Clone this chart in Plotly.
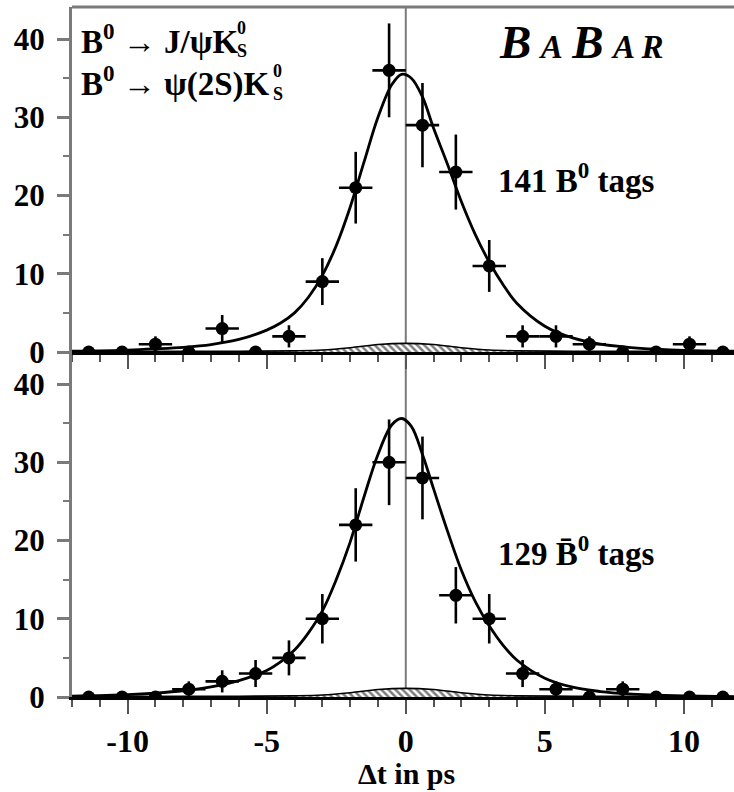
import numpy as np
import plotly.graph_objects as go
from plotly.subplots import make_subplots

# Δt bins (ps) and event counts per bin
bin_centers = [-11.4, -10.2, -9.0, -7.8, -6.6, -5.4, -4.2, -3.0, -1.8, -0.6,
               0.6, 1.8, 3.0, 4.2, 5.4, 6.6, 7.8, 9.0, 10.2, 11.4]
b0_counts = [0, 0, 1, 0, 3, 0, 2, 9, 21, 36, 29, 23, 11, 2, 2, 1, 0, 0, 1, 0]
b0bar_counts = [0, 0, 0, 1, 2, 3, 5, 10, 22, 30, 28, 13, 10, 3, 1, 0, 1, 0, 0, 0]
bin_half_width = 0.6

# Likelihood fit projections
fit_dt = [-12, -10, -9, -8, -7, -6, -5, -4.5, -4, -3.5, -3, -2.5, -2, -1.5, -1, -0.5, -0.15,
          0.2, 0.6, 1, 1.5, 2, 2.5, 3, 3.5, 4, 5, 6, 7, 8, 9, 10, 12]
b0_fit = [0.1, 0.25, 0.4, 0.6, 0.95, 1.6, 2.8, 3.7, 5.0, 7.0, 9.8, 13.6, 18.5, 24.3, 30.0, 34.2, 35.5,
          35.0, 32.6, 28.6, 24.0, 19.2, 15.0, 11.5, 8.6, 6.2, 3.3, 1.8, 1.0, 0.6, 0.35, 0.2, 0.1]
b0bar_fit = [0.1, 0.3, 0.5, 0.8, 1.3, 2.1, 3.4, 4.5, 6.0, 8.2, 11.0, 15.0, 19.8, 25.6, 31.0, 34.8, 35.6,
             34.6, 31.0, 26.6, 21.2, 16.2, 12.2, 9.1, 6.6, 4.7, 2.4, 1.25, 0.7, 0.4, 0.25, 0.15, 0.05]

# Background component
bkg_dt = [-12, -8, -6, -4, -3, -2, -1, 0, 1, 2, 3, 4, 6, 8, 12]
bkg_level = [0.05, 0.08, 0.1, 0.15, 0.25, 0.55, 0.95, 1.1, 0.95, 0.55, 0.25, 0.15, 0.1, 0.08, 0.05]

# Axis ticks
x_tick_vals = [-10, -5, 0, 5, 10]
x_tick_text = ["-10", "-5", "0", "5", "10"]
y_tick_vals = [0, 10, 20, 30, 40]
y_tick_text = ["0", "10", "20", "30", "40"]

W, H = 734, 792
L, T, B = 72, 7, 95
PW, PH = W - L, H - T - B
SERIF = "Liberation Serif"
GRAY = "#7a7a7a"


def px_x(px):
    return (px - L) / PW


def px_y(py):
    return (H - B - py) / PH


fig = make_subplots(rows=2, cols=1, shared_xaxes=False, vertical_spacing=0)


def add_panel(counts, fit, row):
    fig.add_trace(go.Scatter(
        x=bkg_dt, y=bkg_level, mode="lines", line=dict(color="black", width=1.6, shape="spline"),
        fill="tozeroy", fillcolor="white",
        fillpattern=dict(shape="\\", fgcolor="black", bgcolor="white", size=5, solidity=0.5),
        showlegend=False, hoverinfo="skip"), row=row, col=1)
    fig.add_trace(go.Scatter(
        x=fit_dt, y=fit, mode="lines",
        line=dict(color="black", width=2.8, shape="spline", smoothing=1.0),
        showlegend=False, hoverinfo="skip"), row=row, col=1)
    err = [float(np.sqrt(c)) for c in counts]
    xerr = [bin_half_width if c > 0 else 0 for c in counts]
    fig.add_trace(go.Scatter(
        x=bin_centers, y=counts, mode="markers",
        marker=dict(color="black", size=13),
        error_y=dict(type="data", array=err, color="black", thickness=2.6, width=0),
        error_x=dict(type="data", array=xerr, color="black", thickness=2.6, width=0),
        showlegend=False), row=row, col=1)


add_panel(b0_counts, b0_fit, 1)
add_panel(b0bar_counts, b0bar_fit, 2)

xcommon = dict(range=[-12, 11.8], tickvals=x_tick_vals, ticktext=x_tick_text,
               ticks="outside", ticklen=14, tickwidth=2, tickcolor="#555",
               minor=dict(dtick=1, tick0=0, ticks="outside", ticklen=7, tickwidth=1.5, tickcolor="#555"),
               showline=True, linecolor="black", linewidth=2.5, showgrid=False, zeroline=False,
               tickfont=dict(family=SERIF, size=32, color="black", weight="bold"))
fig.update_xaxes(**xcommon)
fig.update_xaxes(showticklabels=False, row=1, col=1)

ycommon = dict(range=[0, 44.1], tickvals=y_tick_vals, ticktext=y_tick_text,
               ticks="outside", ticklen=12, tickwidth=2.5, tickcolor=GRAY,
               minor=dict(dtick=5, tick0=0, ticks="outside", ticklen=6, tickwidth=2, tickcolor=GRAY),
               showline=True, linecolor=GRAY, linewidth=3, showgrid=False, zeroline=False,
               ticklabelstandoff=6,
               tickfont=dict(family=SERIF, size=31, color="black", weight="bold"))
fig.update_yaxes(**ycommon)

shapes = [
    dict(type="line", xref="x", yref="paper", x0=0, x1=0, y0=0, y1=1,
         line=dict(color=GRAY, width=2), layer="below"),
    dict(type="line", xref="paper", yref="paper", x0=0, x1=1.01, y0=1, y1=1,
         line=dict(color=GRAY, width=3)),
]

big = dict(family=SERIF, size=33, color="black", weight="bold")
small = dict(family=SERIF, size=18, color="black", weight="bold")
thin = "\u2009"
annotations = [
    dict(text="B<sup>0</sup> → J/ψK", x=px_x(80), y=px_y(39), xanchor="left", yanchor="middle", font=big),
    dict(text="0<br>S", x=px_x(236), y=px_y(40), xanchor="left", yanchor="middle", align="left", font=small),
    dict(text="B<sup>0</sup> → ψ(2S)K", x=px_x(80), y=px_y(81), xanchor="left", yanchor="middle", font=big),
    dict(text="0<br>S", x=px_x(272), y=px_y(82), xanchor="left", yanchor="middle", align="left", font=small),
    dict(text=f"<i>B{thin}<span style='font-size:33px'>A</span>{thin}B{thin}"
              f"<span style='font-size:33px'>A{thin}R</span></i>",
         x=px_x(581), y=px_y(42), xanchor="center", yanchor="middle",
         font=dict(family=SERIF, size=47, color="black", weight="bold")),
    dict(text="141 B<sup>0</sup> tags", x=px_x(497), y=px_y(178), xanchor="left", yanchor="middle",
         font=dict(family=SERIF, size=33, color="black", weight="bold")),
    dict(text="129 B\u0304<sup>0</sup> tags", x=px_x(497), y=px_y(551), xanchor="left", yanchor="middle",
         font=dict(family=SERIF, size=33, color="black", weight="bold")),
    dict(text="Δt in ps", x=px_x(406), y=px_y(773), xanchor="center", yanchor="middle",
         font=dict(family=SERIF, size=30, color="black", weight="bold")),
]
for a in annotations:
    a.update(xref="paper", yref="paper", showarrow=False, borderpad=0)

fig.update_layout(
    width=W, height=H,
    margin=dict(l=L, r=0, t=T, b=B),
    plot_bgcolor="white", paper_bgcolor="white",
    shapes=shapes, annotations=annotations,
    showlegend=False,
)

fig.write_html("out.html")
